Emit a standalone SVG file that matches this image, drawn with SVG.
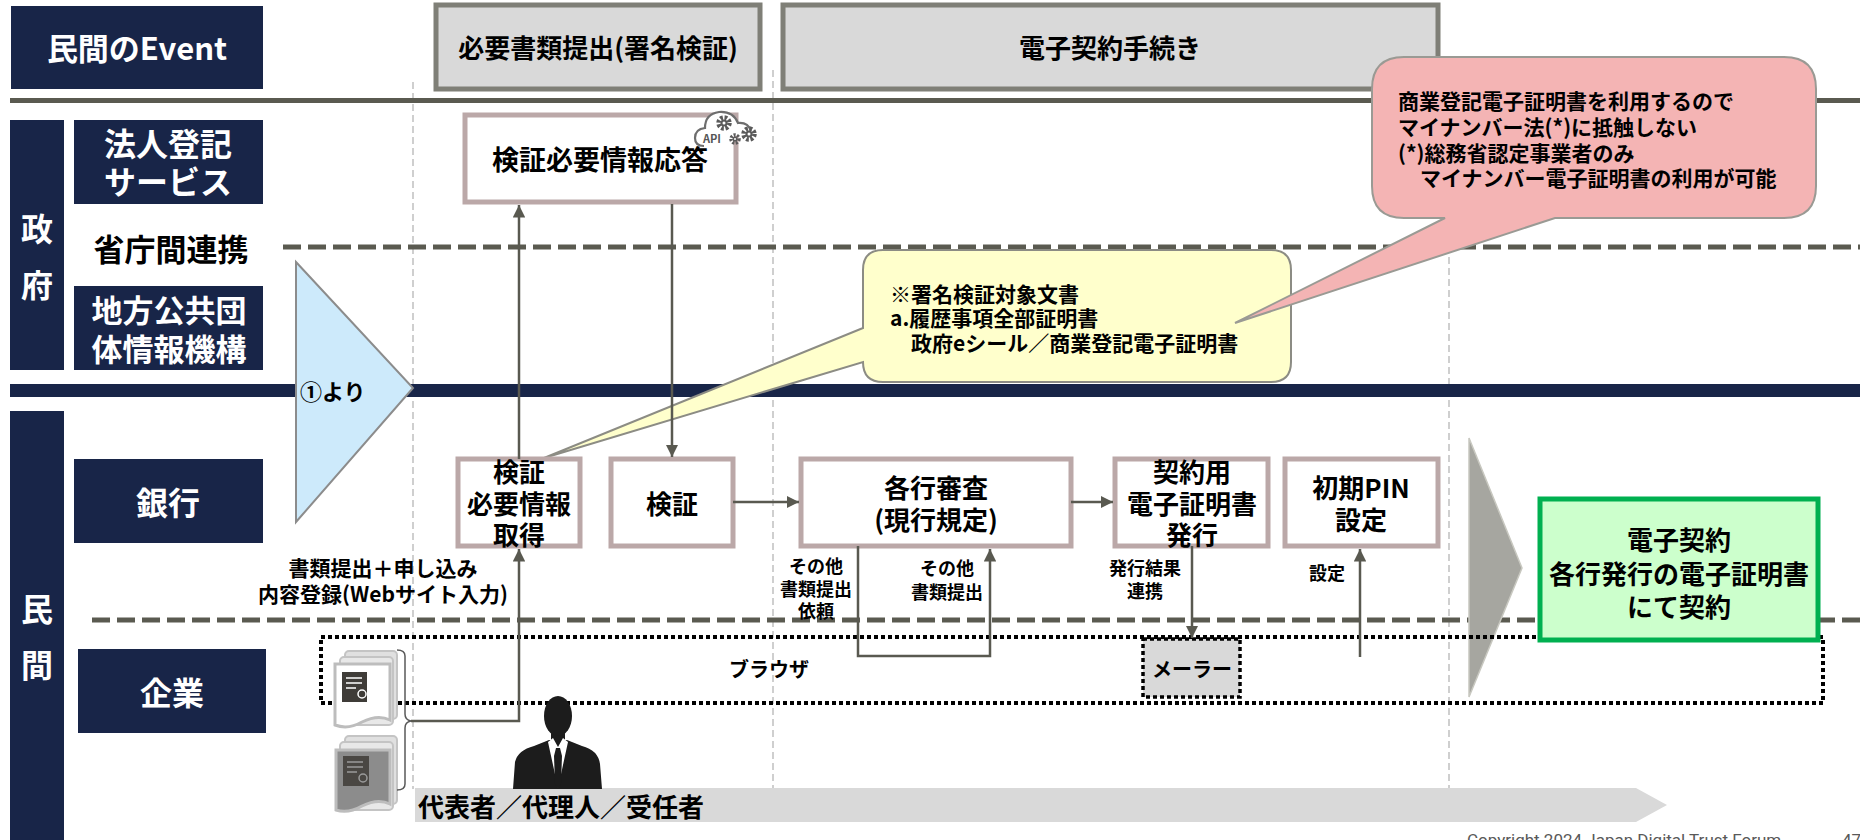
<svg xmlns="http://www.w3.org/2000/svg" width="1860" height="840" viewBox="0 0 1860 840">
<defs>
<style>
text{font-family:"Noto Sans CJK JP","Noto Sans",sans-serif;font-weight:700;dominant-baseline:central;text-anchor:middle;fill:#000}
.w{fill:#fff}
.navy{fill:#182548}
.hdr{fill:#d9d9d9;stroke:#7f7f77;stroke-width:5}
.node{fill:#fff;stroke:#bba8a8;stroke-width:5}
.flow{fill:none;stroke:#595950;stroke-width:2.5}
.vdiv{stroke:#c0c0c0;stroke-width:1.5;stroke-dasharray:7 4}
.hdash{stroke:#5a5a50;stroke-width:5;stroke-dasharray:18 7}
.t27{font-size:27px}
.t26{font-size:26px}
.t21{font-size:21px}
.t20{font-size:20px}
.t18{font-size:18px}
.lane{font-size:32px;fill:#fff}
.st{text-anchor:start}
.gear{fill:none;stroke:#5a5a5a}
</style>
<marker id="ah" viewBox="0 0 10 10" refX="10" refY="5" markerWidth="5" markerHeight="5" orient="auto-start-reverse">
<path d="M0,0L10,5L0,10z" fill="#595950"/>
</marker>
</defs>

<rect width="1860" height="840" fill="#fff"/>

<!-- phase dividers -->
<g id="dividers">
<line class="vdiv" x1="413" y1="82" x2="413" y2="789"/>
<line class="vdiv" x1="773" y1="70" x2="773" y2="789"/>
<line class="vdiv" x1="1449" y1="70" x2="1449" y2="789"/>
</g>

<!-- lane separators -->
<g id="separators">
<rect x="10" y="98" width="1850" height="5" fill="#5a5a50"/>
<line class="hdash" x1="283" y1="247" x2="1860" y2="247"/>
<line class="hdash" x1="92" y1="620" x2="1860" y2="620"/>
<rect x="10" y="384" width="1850" height="13" class="navy"/>
</g>

<!-- header row -->
<g id="hdr-event">
<rect x="11" y="6" width="252" height="83" class="navy"/>
<text x="137" y="46" class="w" style="font-size:31px">民間のEvent</text>
</g>
<g id="hdr-submit">
<rect x="436" y="5" width="324" height="84" class="hdr"/>
<text x="598" y="46" class="t26">必要書類提出(署名検証)</text>
</g>
<g id="hdr-contract">
<rect x="783" y="5" width="655" height="84" class="hdr"/>
<text x="1110" y="46" class="t26">電子契約手続き</text>
</g>

<!-- lane labels -->
<g id="lane-gov">
<rect x="10" y="120" width="54" height="250" class="navy"/>
<text x="37" y="227" class="lane">政</text>
<text x="37" y="283" class="lane">府</text>
</g>
<g id="lane-houjin">
<rect x="74" y="120" width="189" height="84" class="navy"/>
<text x="168" y="142" class="lane">法人登記</text>
<text x="168" y="180" class="lane">サービス</text>
</g>
<g id="lane-renkei">
<text x="171" y="247" style="font-size:31px">省庁間連携</text>
</g>
<g id="lane-jlis">
<rect x="74" y="286" width="189" height="84" class="navy"/>
<text x="169" y="308" class="lane" style="font-size:31px">地方公共団</text>
<text x="169" y="347" class="lane" style="font-size:31px">体情報機構</text>
</g>
<g id="lane-private">
<rect x="10" y="411" width="54" height="440" class="navy"/>
<text x="37" y="607" class="lane">民</text>
<text x="37" y="663" class="lane">間</text>
</g>
<g id="lane-bank">
<rect x="74" y="459" width="189" height="84" class="navy"/>
<text x="168" y="501" class="lane">銀行</text>
</g>
<g id="lane-corp">
<rect x="78" y="649" width="188" height="84" class="navy"/>
<text x="172" y="691" class="lane">企業</text>
</g>

<!-- phase arrows -->
<g id="from-step1">
<polygon points="296,262 413,388 296,522" fill="#cdeafb" stroke="#8c8c8c" stroke-width="2"/>
<text x="300" y="390" class="st" style="font-size:22px">①より</text>
</g>
<g id="to-contract">
<polygon points="1469,438 1522,568 1469,697" fill="#a6a6a0" stroke="#c8c8c0" stroke-width="1.5"/>
</g>

<!-- browser / mailer areas -->
<g id="browser">
<rect x="321" y="637" width="1502" height="66" fill="none" stroke="#000" stroke-width="4" stroke-dasharray="4 3"/>
<text x="769" y="668" class="t20">ブラウザ</text>
</g>
<g id="mailer">
<rect x="1143" y="639" width="97" height="58" fill="#d9d9d9" stroke="#000" stroke-width="3.5" stroke-dasharray="4 3"/>
<text x="1192" y="668" class="t20">メーラー</text>
</g>

<!-- actor band -->
<g id="actors">
<polygon points="415,788 1636,788 1667,805 1636,822 415,822" fill="#d9d9d9"/>
<text x="418" y="805" class="st t26">代表者／代理人／受任者</text>
</g>

<!-- submitted documents -->
<g id="documents">
<rect x="345" y="651" width="52" height="68" rx="4" fill="#e0e0e0" stroke="#c4c4c4" stroke-width="2"/>
<rect x="340" y="657" width="53" height="68" rx="4" fill="#e8e8e8" stroke="#c4c4c4" stroke-width="2"/>
<path d="M335,664 H390 V720 Q378,714 362,722 Q348,730 335,725 Z" fill="#fff" stroke="#bdbdbd" stroke-width="3"/>
<rect x="342" y="672" width="25" height="30" fill="#3f3c38"/>
<path d="M346,678 H362 M346,683 H362 M346,688 H356" stroke="#fff" stroke-width="1.5"/>
<circle cx="362" cy="694" r="4" fill="none" stroke="#fff" stroke-width="1.5"/>
<rect x="345" y="736" width="52" height="68" rx="4" fill="#e0e0e0" stroke="#c4c4c4" stroke-width="2"/>
<rect x="340" y="742" width="53" height="68" rx="4" fill="#e8e8e8" stroke="#c4c4c4" stroke-width="2"/>
<path d="M336,750 H390 V804 Q378,798 362,806 Q348,814 336,810 Z" fill="#8c8c8c" stroke="#bdbdbd" stroke-width="3"/>
<rect x="343" y="756" width="26" height="30" fill="#4a4743"/>
<path d="M347,762 H363 M347,767 H363 M347,772 H357" stroke="#9a9a9a" stroke-width="1.5"/>
<circle cx="363" cy="778" r="4" fill="none" stroke="#9a9a9a" stroke-width="1.5"/>
<path d="M397,650 Q405,650 405,656 V714 Q405,720 411,721 Q405,722 405,728 V784 Q405,790 397,790" fill="none" stroke="#595959" stroke-width="1.5"/>
</g>

<!-- applicant -->
<g id="person">
<path d="M513,789 L515,762 Q518,750 534,746 L549,740 L567,740 L582,746 Q598,750 600,764 L602,789 Z" fill="#1c1c1c"/>
<rect x="551" y="726" width="14" height="16" fill="#1c1c1c"/>
<ellipse cx="558" cy="716" rx="14" ry="20" fill="#1c1c1c"/>
<polygon points="548,742 558,788 568,742 563,738 558,747 553,738" fill="#fff"/>
<polygon points="556,748 560,748 562,756 561,784 558,789 555,784 554,756" fill="#1c1c1c"/>
</g>

<!-- callouts -->
<g id="note-targets">
<path d="M883,250 H1271 Q1291,250 1291,270 V362 Q1291,382 1271,382 H883 Q863,382 863,362 L544,458 L863,328 V270 Q863,250 883,250 Z" fill="#ffffcc" stroke="#8c8c84" stroke-width="2"/>
<text x="890" y="293" class="st t21">※署名検証対象文書</text>
<text x="890" y="317" class="st t21">a.履歴事項全部証明書</text>
<text x="911" y="342" class="st t21">政府eシール／商業登記電子証明書</text>
</g>
<g id="note-mynumber">
<path d="M1404,57 H1784 Q1816,57 1816,89 V186 Q1816,218 1784,218 H1555 L1235,323 L1445,218 H1404 Q1372,218 1372,186 V89 Q1372,57 1404,57 Z" fill="#f4b4b4" stroke="#9a9a94" stroke-width="2"/>
<text x="1398" y="100" class="st t21">商業登記電子証明書を利用するので</text>
<text x="1398" y="126" class="st t21">マイナンバー法(*)に抵触しない</text>
<text x="1398" y="152" class="st t21">(*)総務省認定事業者のみ</text>
<text x="1420" y="177" class="st t21">マイナンバー電子証明書の利用が可能</text>
</g>

<!-- process nodes -->
<g id="n-response">
<rect x="465" y="115" width="271" height="87" class="node"/>
<text x="600" y="158" class="t27">検証必要情報応答</text>
<g id="api-icon">
<path d="M704,146 Q695,146 695,138 Q695,129 705,128 Q705,114 719,112 Q733,111 738,123 Q748,122 751,131" fill="#fff" stroke="#6e6e6e" stroke-width="2.2"/>
<text x="712" y="138" style="font-size:11px;fill:#555">API</text>
<circle class="gear" cx="724" cy="123" r="5.5" stroke-width="4.5" stroke-dasharray="2.6 1.7"/>
<circle cx="724" cy="123" r="3.6" fill="#5a5a5a"/>
<circle cx="724" cy="123" r="1.5" fill="#fff"/>
<circle class="gear" cx="749" cy="134" r="5.5" stroke-width="4.5" stroke-dasharray="2.6 1.7"/>
<circle cx="749" cy="134" r="3.6" fill="#5a5a5a"/>
<circle cx="749" cy="134" r="1.5" fill="#fff"/>
<circle class="gear" cx="735" cy="139" r="4" stroke-width="3.5" stroke-dasharray="2 1.4"/>
<circle cx="735" cy="139" r="2.5" fill="#5a5a5a"/>
<circle cx="735" cy="139" r="1" fill="#fff"/>
</g>
</g>
<g id="n-fetch">
<rect x="458" y="459" width="122" height="87" class="node"/>
<text x="519" y="470" class="t26">検証</text>
<text x="519" y="502" class="t26">必要情報</text>
<text x="519" y="533" class="t26">取得</text>
</g>
<g id="n-verify">
<rect x="611" y="459" width="122" height="87" class="node"/>
<text x="672" y="502" class="t26">検証</text>
</g>
<g id="n-review">
<rect x="801" y="459" width="270" height="87" class="node"/>
<text x="936" y="486" class="t26">各行審査</text>
<text x="936" y="518" class="t26">(現行規定)</text>
</g>
<g id="n-issue">
<rect x="1115" y="459" width="153" height="87" class="node"/>
<text x="1192" y="470" class="t26">契約用</text>
<text x="1192" y="502" class="t26">電子証明書</text>
<text x="1192" y="533" class="t26">発行</text>
</g>
<g id="n-pin">
<rect x="1285" y="459" width="153" height="87" class="node"/>
<text x="1361" y="486" class="t26">初期PIN</text>
<text x="1361" y="518" class="t26">設定</text>
</g>
<g id="n-contract">
<rect x="1540" y="499" width="278" height="141" fill="#ccffcc" stroke="#00b050" stroke-width="5"/>
<text x="1679" y="538" class="t26">電子契約</text>
<text x="1679" y="572" class="t26">各行発行の電子証明書</text>
<text x="1679" y="605" class="t26">にて契約</text>
</g>

<!-- connectors -->
<g id="connectors">
<path class="flow" d="M411,721 H519 V549" marker-end="url(#ah)"/>
<path class="flow" d="M519,459 V205" marker-end="url(#ah)"/>
<path class="flow" d="M672,204 V457" marker-end="url(#ah)"/>
<path class="flow" d="M733,502 H799" marker-end="url(#ah)"/>
<path class="flow" d="M1071,502 H1113" marker-end="url(#ah)"/>
<path class="flow" d="M858,546 V656 H990 V549" marker-end="url(#ah)"/>
<path class="flow" d="M1192,546 V638" marker-end="url(#ah)"/>
<path class="flow" d="M1360,657 V549" marker-end="url(#ah)"/>
</g>

<!-- connector labels -->
<g id="labels">
<text x="383" y="567" class="t21">書類提出＋申し込み</text>
<text x="383" y="593" class="t21">内容登録(Webサイト入力)</text>
<text x="816" y="565" class="t18">その他</text>
<text x="816" y="588" class="t18">書類提出</text>
<text x="816" y="610" class="t18">依頼</text>
<text x="947" y="567" class="t18">その他</text>
<text x="947" y="591" class="t18">書類提出</text>
<text x="1145" y="567" class="t18">発行結果</text>
<text x="1145" y="590" class="t18">連携</text>
<text x="1327" y="572" class="t18">設定</text>
</g>

<!-- footer -->
<g id="footer">
<text x="1467" y="846" class="st" style="font-family:Roboto,'Liberation Sans',sans-serif;font-weight:400;font-size:17px;fill:#595959;dominant-baseline:alphabetic">Copyright 2024 Japan Digital Trust Forum</text>
<text x="1842" y="846" class="st" style="font-family:Roboto,'Liberation Sans',sans-serif;font-weight:400;font-size:17px;fill:#595959;dominant-baseline:alphabetic">47</text>
</g>
</svg>
